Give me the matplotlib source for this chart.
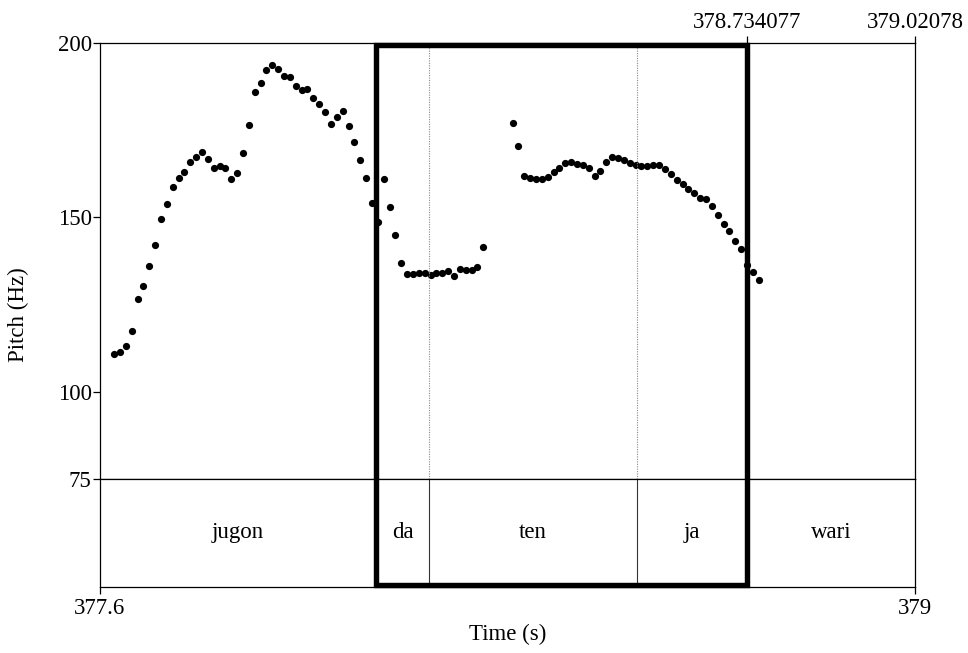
import matplotlib.pyplot as plt
from matplotlib.patches import Rectangle

plt.rcParams['font.family'] = ['Liberation Serif', 'DejaVu Serif']
plt.rcParams['font.size'] = 16.5

# ******************
# Data
# ******************
t_start = 377.6299
t_end = 379.02078

times_a = [377.654, 377.664, 377.674, 377.684, 377.694, 377.704, 377.714, 377.724, 377.734, 377.744,
           377.754, 377.764, 377.774, 377.784, 377.794, 377.804, 377.814, 377.824, 377.834, 377.844,
           377.854, 377.864, 377.874, 377.884, 377.894, 377.904, 377.914, 377.924, 377.934, 377.944,
           377.954, 377.964, 377.974, 377.984, 377.994, 378.004, 378.014, 378.024, 378.034, 378.044,
           378.054, 378.064, 378.074, 378.084, 378.094, 378.104, 378.114, 378.124, 378.134, 378.144,
           378.154, 378.164, 378.174, 378.184, 378.194, 378.204, 378.214, 378.224, 378.234, 378.244,
           378.254, 378.264, 378.274, 378.284]
pitch_a = [110.8, 111.4, 113.2, 117.5, 126.6, 130.4, 136.0, 142.0, 149.6, 153.7,
           158.7, 161.4, 163.0, 166.0, 167.2, 168.6, 166.8, 164.2, 164.6, 164.2,
           161.0, 162.7, 168.5, 176.4, 185.9, 188.4, 192.2, 193.7, 192.5, 190.6,
           190.2, 187.7, 186.6, 186.7, 184.3, 182.6, 180.2, 176.7, 178.9, 180.5,
           176.3, 171.6, 166.4, 161.2, 154.0, 148.7, 160.9, 152.9, 144.9, 136.9,
           133.8, 133.6, 134.0, 133.9, 133.5, 133.9, 134.1, 134.7, 133.2, 135.2,
           134.8, 134.9, 135.8, 141.6]

times_b = [378.334, 378.344, 378.354, 378.364, 378.374, 378.384, 378.394, 378.404, 378.414, 378.424,
           378.434, 378.444, 378.454, 378.464, 378.474, 378.484, 378.494, 378.504, 378.514, 378.524,
           378.534, 378.544, 378.554, 378.564, 378.574, 378.584, 378.594, 378.604, 378.614, 378.624,
           378.634, 378.644, 378.654, 378.664, 378.674, 378.684, 378.694, 378.704, 378.714, 378.724,
           378.734, 378.744, 378.754]
pitch_b = [177.0, 170.4, 161.9, 161.3, 161.1, 161.0, 161.6, 162.9, 164.2, 165.5,
           165.8, 165.3, 165.1, 164.2, 161.8, 163.3, 165.8, 167.4, 166.9, 166.3,
           165.7, 165.1, 164.8, 164.8, 164.9, 164.9, 163.8, 162.3, 160.8, 159.6,
           158.2, 156.9, 155.6, 155.2, 153.3, 150.7, 148.1, 146.1, 143.3, 140.8,
           136.3, 134.2, 132.1]

bounds = [378.1005, 378.1919, 378.5464, 378.734077]
words = ["jugon", "da", "ten", "ja", "wari"]
pitch_ticks = [200, 150, 100, 75]

# ******************
# Layout
# ******************
W, H = 968, 653
left, right = 100 / W, 915 / W
y_top, y_mid, y_bot = 1 - 43 / H, 1 - 478.7 / H, 1 - 587 / H

fig = plt.figure(figsize=(9.68, 6.53), dpi=100)
ax = fig.add_axes([left, y_mid, right - left, y_top - y_mid])
tier = fig.add_axes([left, y_bot, right - left, y_mid - y_bot])
box = fig.add_axes([left, y_bot, right - left, y_top - y_bot])

# pitch panel
ax.plot(times_a, pitch_a, 'o', color='black', ms=5.2, mec='none')
ax.plot(times_b, pitch_b, 'o', color='black', ms=5.2, mec='none')
for b in bounds[1:3]:
    ax.axvline(b, color='#888888', lw=0.8, ls=(0, (1, 1.2)))
ax.set_xlim(t_start, t_end)
ax.set_ylim(75, 200)
ax.set_yticks(pitch_ticks)
ax.set_yticklabels([str(p) for p in pitch_ticks])
ax.set_xticks([bounds[3], t_end])
ax.set_xticklabels(["378.734077", "379.02078"])
ax.tick_params(axis='x', top=True, labeltop=True, bottom=False, labelbottom=False,
               direction='out', length=5, width=0.9, pad=2)
ax.tick_params(axis='y', direction='out', length=5, width=0.9, pad=1)
for s in ax.spines.values():
    s.set_linewidth(0.9)

# text tier
edges = [t_start] + bounds + [t_end]
for b in bounds:
    tier.axvline(b, color='#333333', lw=0.8)
for i, w in enumerate(words):
    tier.text((edges[i] + edges[i + 1]) / 2, 0.5, w, ha='center', va='center')
tier.set_xlim(t_start, t_end)
tier.set_ylim(0, 1)
tier.set_yticks([])
tier.set_xticks([t_start, t_end])
tier.set_xticklabels(["377.6", "379"])
tier.tick_params(axis='x', direction='out', length=5, width=0.9, pad=3)
for s in tier.spines.values():
    s.set_linewidth(0.9)

# selection box
box.set_xlim(t_start, t_end)
box.set_ylim(0, 1)
box.axis('off')
box.patch.set_alpha(0)
box.add_patch(Rectangle((bounds[0], 0.003), bounds[3] - bounds[0], 0.994,
                        fill=False, ec='black', lw=3.9, joinstyle='miter', clip_on=False))

fig.text(18 / W, 1 - 315 / H, "Pitch (Hz)", rotation=90, ha='center', va='center')
fig.text(508 / W, 1 - 634 / H, "Time (s)", ha='center', va='center')

plt.savefig("out.png", dpi=100)
